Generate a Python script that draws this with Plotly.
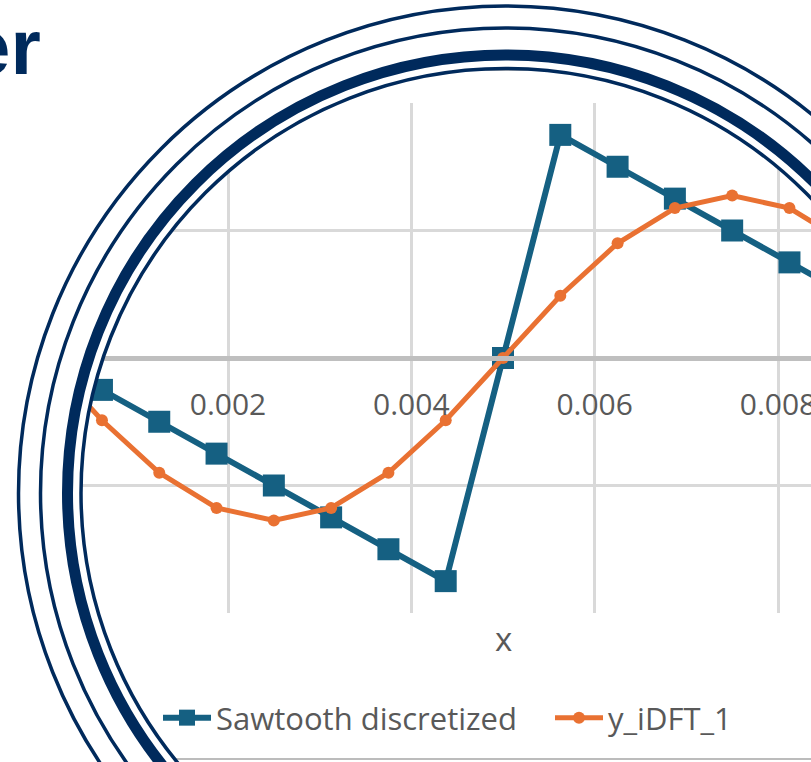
import plotly.graph_objects as go

# ---- data -------------------------------------------------------------
x_vals = [0.0, 0.000625, 0.00125, 0.001875, 0.0025, 0.003125, 0.00375, 0.004375,
          0.005, 0.005625, 0.00625, 0.006875, 0.0075, 0.008125, 0.00875, 0.009375, 0.01]
sawtooth = [0.0, -0.125, -0.25, -0.375, -0.5, -0.625, -0.75, -0.875,
            0.0, 0.875, 0.75, 0.625, 0.5, 0.375, 0.25, 0.125, 0.0]
y_idft_1 = [0.0, -0.244, -0.450, -0.588, -0.637, -0.588, -0.450, -0.244,
            0.0, 0.244, 0.450, 0.588, 0.637, 0.588, 0.450, 0.244, 0.0]
series_names = ["Sawtooth discretized", "y_iDFT_1"]
x_title = "x"

# ---- page geometry (pixels) ------------------------------------------
W, H = 811, 762
NAVY = "#002A5C"
BLUE = "#156082"
ORANGE = "#E97132"
GREY_TXT = "#595959"
FONT = "Open Sans"

def px(x):
    return x / W

def py(y):
    return 1 - y / H

# plot area
plot_top, plot_bottom = 103, 613
x_px0, x_scale = 44.67, 91667.0       # pixel of x=0, pixels per unit
x_range = [(0 - x_px0) / x_scale, (W - x_px0) / x_scale]
y_dom = [py(plot_bottom), py(plot_top)]

# round frame
cx, cy = 505.5, 493.0
rings = [(487.0, 3.5), (465.0, 3.5), (438.0, 11.0), (424.5, 3.5)]
clip_r = 424.5


def circle_path(cx, cy, r):
    k = 0.5523 * r
    pts = [
        ("M", [(cx + r, cy)]),
        ("C", [(cx + r, cy + k), (cx + k, cy + r), (cx, cy + r)]),
        ("C", [(cx - k, cy + r), (cx - r, cy + k), (cx - r, cy)]),
        ("C", [(cx - r, cy - k), (cx - k, cy - r), (cx, cy - r)]),
        ("C", [(cx + k, cy - r), (cx + r, cy - k), (cx + r, cy)]),
    ]
    out = []
    for cmd, ps in pts:
        out.append(cmd + " " + " ".join(f"{px(a):.5f},{py(b):.5f}" for a, b in ps))
    return " ".join(out) + " Z"


rect = (f"M {px(-20):.5f},{py(-20):.5f} L {px(W + 20):.5f},{py(-20):.5f} "
        f"L {px(W + 20):.5f},{py(H + 20):.5f} L {px(-20):.5f},{py(H + 20):.5f} Z")
mask_path = rect + " " + circle_path(cx, cy, clip_r)

fig = go.Figure()
fig.add_trace(go.Scatter(
    x=x_vals, y=sawtooth, name=series_names[0], mode="lines+markers",
    line=dict(color=BLUE, width=6),
    marker=dict(symbol="square", size=22, color=BLUE),
    legend="legend",
))
fig.add_trace(go.Scatter(
    x=x_vals, y=y_idft_1, name=series_names[1], mode="lines+markers",
    line=dict(color=ORANGE, width=5),
    marker=dict(symbol="circle", size=12, color=ORANGE),
    legend="legend2",
))

shapes = [
    # chart frame
    dict(type="rect", xref="paper", yref="paper", x0=px(0), x1=px(W + 20),
         y0=py(759), y1=py(70), line=dict(color="#A6A6A6", width=1.5), layer="below"),
    # white area outside the round frame
    dict(type="path", xref="paper", yref="paper", path=mask_path,
         fillcolor="white", line=dict(width=0), layer="above"),
]
for r, w in rings:
    shapes.append(dict(type="circle", xref="paper", yref="paper",
                       x0=px(cx - r), x1=px(cx + r), y0=py(cy + r), y1=py(cy - r),
                       line=dict(color=NAVY, width=w), layer="above"))

legend_common = dict(orientation="h", xanchor="left", yanchor="middle",
                     font=dict(family=FONT, size=31, color=GREY_TXT),
                     bgcolor="rgba(0,0,0,0)", itemsizing="trace", itemwidth=48)

fig.update_layout(
    width=W, height=H,
    margin=dict(l=0, r=0, t=0, b=0),
    paper_bgcolor="white", plot_bgcolor="white",
    showlegend=True,
    legend=dict(x=px(158), y=py(718), **legend_common),
    legend2=dict(x=px(550), y=py(718), **legend_common),
    xaxis=dict(
        domain=[0, 1], range=x_range, tick0=0, dtick=0.002,
        showgrid=True, gridcolor="#D9D9D9", gridwidth=2.5,
        zeroline=False, anchor="free", position=(y_dom[0] + y_dom[1]) / 2,
        showline=True, linecolor="#BFBFBF", linewidth=4.5,
        ticks="", ticklabelstandoff=18, ticklabeloverflow="allow",
        tickfont=dict(family=FONT, size=30, color=GREY_TXT),
        automargin=False,
    ),
    yaxis=dict(
        domain=y_dom, range=[-1, 1], dtick=0.5,
        showgrid=True, gridcolor="#D9D9D9", gridwidth=2.5,
        zeroline=False, showticklabels=False, ticks="", automargin=False,
    ),
    shapes=shapes,
    annotations=[
        dict(text="<b>er</b>", xref="paper", yref="paper", x=px(43), y=py(47),
             xanchor="right", yanchor="middle", showarrow=False,
             font=dict(family="Liberation Sans", size=78, color=NAVY)),
        # horizontal axis title
        dict(text=x_title, xref="x", yref="paper", x=0.005, y=py(638),
             xanchor="center", yanchor="middle", showarrow=False,
             font=dict(family=FONT, size=33, color=GREY_TXT)),
    ],
)

fig.write_html("out.html")
